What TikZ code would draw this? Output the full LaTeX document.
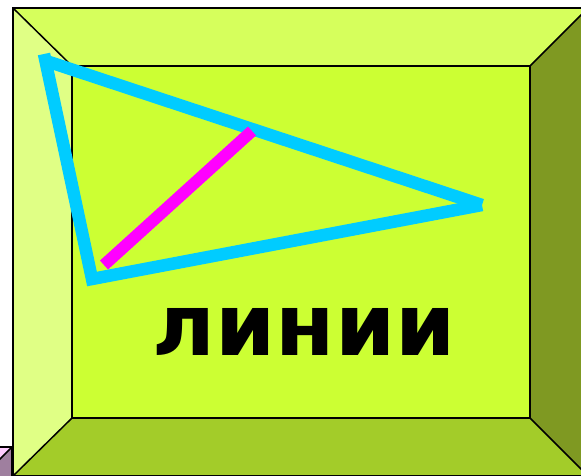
\documentclass[tikz,border=0pt]{standalone}
\usepackage{fontspec}
\setmainfont{DejaVu Sans}
\definecolor{lmface}{RGB}{204,255,51}
\definecolor{lmtop}{RGB}{214,255,92}
\definecolor{lmleft}{RGB}{224,255,133}
\definecolor{lmright}{RGB}{127,153,34}
\definecolor{lmbottom}{RGB}{163,204,41}
\definecolor{lncyan}{RGB}{0,204,255}
\definecolor{lnmagenta}{RGB}{255,0,255}
\definecolor{pkface}{RGB}{255,204,255}
\definecolor{pkright}{RGB}{159,127,159}
\usepackage{tikz}
\usetikzlibrary{positioning,calc}
\tikzset{
  bevel/.style={draw=black, line width=1.5pt},
  side/.style={line width=12.5pt, line cap=butt},
}

\begin{document}
\begin{tikzpicture}[x=1pt, y=-1pt]
\useasboundingbox (0,0) rectangle (581,475);
\clip (0,0) rectangle (581,475);

% Frame corners
\coordinate (o1) at (13,8);
\coordinate (o2) at (588,8);
\coordinate (o3) at (588,476);
\coordinate (o4) at (13,476);
\coordinate (i1) at (72,66);
\coordinate (i2) at (530,66);
\coordinate (i3) at (530,418);
\coordinate (i4) at (72,418);

% Bevel faces
\fill[lmtop] (o1) -- (o2) -- (i2) -- (i1) -- cycle;
\fill[lmleft] (o1) -- (i1) -- (i4) -- (o4) -- cycle;
\fill[lmright] (o2) -- (o3) -- (i3) -- (i2) -- cycle;
\fill[lmbottom] (o4) -- (i4) -- (i3) -- (o3) -- cycle;
\fill[lmface] (i1) rectangle (i3);
\draw[bevel] (o1) -- (i1) (o2) -- (i2) (o3) -- (i3) (o4) -- (i4);
\draw[bevel] (i1) rectangle (i3);
\draw[draw=black, line width=2pt] (o1) rectangle (o3);

% Second shape, bottom left
\fill[pkface] (-60,447) rectangle (12,500);
\fill[pkright] (12,447) -- (-60,519) -- (12,519) -- cycle;
\draw[bevel] (12,447) -- (-20,479);
\draw[draw=black, line width=2pt] (-60,447) -- (12,447) -- (12,500);

% Triangle
\coordinate (ta) at (44,54);
\coordinate (tb) at (92,279);
\coordinate (tc) at (482,205);
\coordinate (tm) at (252,131);
\coordinate (tn) at (104,265);
\draw[side, lncyan, line join=miter] (ta) -- (tb) -- (tc);
\draw[side, lncyan] (tc) -- ($(ta)!0.03!(tb)$);
\draw[side, lnmagenta, line width=12pt] (tn) -- (tm);

\node[font=\fontsize{86}{86}\bfseries, text=black,
      inner sep=0pt, anchor=base] (word) at (304,355) {линии};

\end{tikzpicture}
\end{document}
